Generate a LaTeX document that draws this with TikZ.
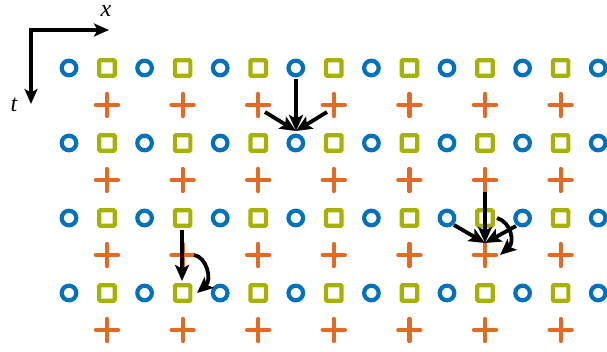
\documentclass[tikz,border=0pt]{standalone}
\usepackage{fontspec}
\setmainfont{Liberation Serif}
\usetikzlibrary{arrows.meta,shapes.misc}
\definecolor{cblue}{RGB}{0,114,189}
\definecolor{colive}{RGB}{166,178,0}
\definecolor{corange}{RGB}{228,106,36}
\begin{document}
\begin{tikzpicture}[x=1pt,y=-1pt,
  circmark/.style={circle,draw=cblue,line width=4.2pt,minimum size=14.6pt,inner sep=0pt},
  sqmark/.style={rectangle,draw=colive,line width=4.2pt,minimum size=15.5pt,inner sep=0pt,rounded corners=1pt},
  plusmark/.style={cross out,draw=corange,line width=4.2pt,line cap=round,minimum size=11.5pt,inner sep=0pt,rotate=45},
  arr/.style={line width=3.8pt,-{Stealth[length=16pt,width=14pt,inset=3.5pt]}},
  axis/.style={line width=3.8pt,-{Stealth[length=15pt,width=13pt,inset=3.5pt]}},
  lbl/.style={font=\fontsize{24}{26}\selectfont\itshape,inner sep=0pt}]
\useasboundingbox (0,0) rectangle (607,352);
% markers
\foreach \r in {0,1,2,3}{
  \foreach \k in {0,...,7}{
    \node[circmark] (c-\r-\k) at ({69+75.6*\k},{68+75*\r}) {};
  }
  \foreach \k in {0,...,6}{
    \node[sqmark] (s-\r-\k) at ({107+75.6*\k},{68+75*\r}) {};
    \node[plusmark] (p-\r-\k) at ({107+75.6*\k},{105+75*\r}) {};
  }
}
% axes
\coordinate (o) at (31,30);
\coordinate (xe) at (109,30);
\coordinate (te) at (31,104);
\draw[axis] (29.1,30) -- (xe);
\draw[axis] (31,30) -- (te);
\node[lbl,anchor=base] (xl) at (106,17) {x};
\node[lbl,anchor=base] (tl) at (14,112) {t};
% arrows group 1
\coordinate (a1) at (296,131);
\coordinate (a1s) at (296,79);
\coordinate (a1l) at (265,112);
\coordinate (a1r) at (327,112);
\draw[arr] (a1s) -- (a1);
\draw[arr] (a1l) -- (a1);
\draw[arr] (a1r) -- (a1);
% arrows group 2
\coordinate (a2) at (485,243);
\coordinate (a2s) at (485,192);
\coordinate (a2l) at (454,225);
\coordinate (a2r) at (516,226);
\draw[arr] (a2s) -- (a2);
\draw[arr] (a2l) -- (a2);
\draw[arr] (a2r) -- (a2);
\coordinate (b2s) at (497,218);
\coordinate (b2e) at (500,255);
\draw[arr] (b2s) .. controls (511,222) and (515,242) .. (b2e);
% arrows group 3
\coordinate (a3s) at (182,230);
\coordinate (a3) at (182,281);
\draw[arr] (a3s) -- (a3);
\coordinate (b3s) at (194,255);
\coordinate (b3e) at (197,293);
\draw[arr] (b3s) .. controls (207,257) and (212,280) .. (b3e);
\end{tikzpicture}
\end{document}
